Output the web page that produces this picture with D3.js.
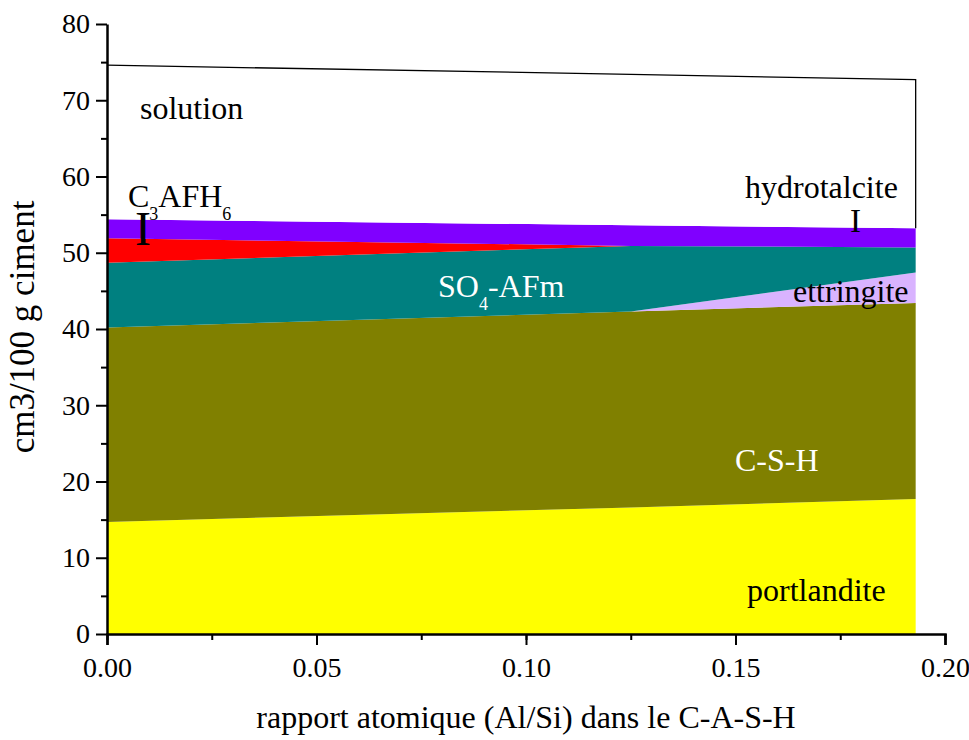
<!DOCTYPE html>
<html>
<head>
<meta charset="utf-8">
<script src="https://cdn.jsdelivr.net/npm/d3@7"></script>
<style>
  body { margin: 0; background: #fff; }
  text { font-family: "Liberation Serif", "Times New Roman", serif; }
</style>
</head>
<body>
<svg width="969" height="740"></svg>
<script>
// Al/Si ratio in the C-A-S-H
const alSi = [0, 0.125, 0.193]

// layer thicknesses, cm3 / 100 g ciment
const portlandite = [14.7, 16.6, 17.7]
const csh = [25.5, 25.7, 25.7]
const ettringite = [0, 0, 4.0]
const so4afm = [8.5, 8.6, 3.3]
const c3afh6 = [3.2, 0, 0]
const hydrotalcite = [2.5, 2.7, 2.5]
const solution = [20.2, 19.8, 19.5]

const keys = ["portlandite", "csh", "ettringite", "so4afm", "c3afh6", "hydrotalcite", "solution"]
const colors = {
    portlandite: "#ffff00",
    csh: "#808000",
    ettringite: "#d9b3ff",
    so4afm: "#008080",
    c3afh6: "#ff0000",
    hydrotalcite: "#8000ff",
    solution: "#ffffff"
}

const xTicks = [0, 0.05, 0.10, 0.15, 0.20]
const yTicks = [0, 10, 20, 30, 40, 50, 60, 70, 80]

// build rows for d3.stack
const rows = alSi.map((x, i) => ({
    x: x,
    portlandite: portlandite[i],
    csh: csh[i],
    ettringite: ettringite[i],
    so4afm: so4afm[i],
    c3afh6: c3afh6[i],
    hydrotalcite: hydrotalcite[i],
    solution: solution[i]
}))

const margin = { top: 24, right: 24, bottom: 106, left: 107 },
    width = 969 - margin.left - margin.right,
    height = 740 - margin.top - margin.bottom

const svg = d3.select("svg")
const g = svg.append("g").attr("transform", `translate(${margin.left},${margin.top})`)

const xScale = d3.scaleLinear().domain([0, 0.20]).range([0, width])
const yScale = d3.scaleLinear().domain([0, 80]).range([height, 0])

const series = d3.stack().keys(keys)(rows)

const area = d3.area()
    .x(d => xScale(d.data.x))
    .y0(d => yScale(d[0]))
    .y1(d => yScale(d[1]))

g.selectAll("path.layer")
    .data(series)
    .join("path")
    .attr("class", "layer")
    .attr("d", area)
    .attr("fill", d => colors[d.key])

// outline of the solution layer (top edge + right edge)
const sol = series[series.length - 1]
const last = sol[sol.length - 1]
const outline = sol.map(d => [xScale(d.data.x), yScale(d[1])])
outline.push([xScale(last.data.x), yScale(last[0])])
g.append("path")
    .attr("d", d3.line()(outline))
    .attr("fill", "none")
    .attr("stroke", "#000")
    .attr("stroke-width", 1.3)

// axes with minor ticks
const fontSize = 28
g.append("g")
    .attr("transform", `translate(0,${height})`)
    .call(d3.axisBottom(xScale).tickValues(d3.range(0, 0.2001, 0.025)).tickSize(6).tickFormat(""))
    .call(a => a.select(".domain").remove())
const xAxis = g.append("g")
    .attr("transform", `translate(0,${height})`)
    .call(d3.axisBottom(xScale).tickValues(xTicks).tickSize(11).tickPadding(8).tickFormat(d3.format(".2f")))
xAxis.selectAll("text").attr("font-size", fontSize).attr("dy", "0.85em")

g.append("g")
    .call(d3.axisLeft(yScale).tickValues(d3.range(5, 80, 10)).tickSize(6).tickFormat(""))
    .call(a => a.select(".domain").remove())
const yAxis = g.append("g")
    .call(d3.axisLeft(yScale).tickValues(yTicks).tickSize(11).tickPadding(6).tickSizeOuter(0))
yAxis.selectAll("text").attr("font-size", fontSize)

svg.selectAll(".domain").attr("stroke-width", 2.5)
svg.selectAll(".tick line").attr("stroke-width", 2)
svg.selectAll(".tick text").attr("fill", "#000").attr("font-family", "Liberation Serif")

// axis titles
svg.append("text")
    .attr("x", margin.left + xScale(0.1))
    .attr("y", 728)
    .attr("text-anchor", "middle")
    .attr("font-size", 32)
    .text("rapport atomique (Al/Si) dans le C-A-S-H")

svg.append("text")
    .attr("transform", `translate(34,327) rotate(-90)`)
    .attr("text-anchor", "middle")
    .attr("font-size", 35)
    .text("cm3/100 g ciment")

// phase labels (parts: plain strings, or {s: "..."} for a subscript)
function label(x, y, parts, color) {
    const t = g.append("text")
        .attr("x", x)
        .attr("y", y)
        .attr("font-size", 32)
        .attr("fill", color || "#000")
    let shift = 0
    parts.forEach(p => {
        if (typeof p === "string") {
            t.append("tspan").attr("dy", -shift).text(p)
            shift = 0
        } else {
            t.append("tspan").attr("font-size", 18).attr("dy", 13 - shift).text(p.s)
            shift = 13
        }
    })
    return t
}

label(33, 95, ["solution"])
label(21, 183, ["C", { s: "3" }, "AFH", { s: "6" }])
label(28, 221, ["I"]).attr("font-size", 48)
label(638, 174, ["hydrotalcite"])
label(743, 208, ["I"]).attr("font-size", 33)
label(331, 273, ["SO", { s: "4" }, "-AFm"], "#fff")
label(686, 278, ["ettringite"])
label(628, 447, ["C-S-H"], "#fff")
label(640, 577, ["portlandite"])
</script>
</body>
</html>
